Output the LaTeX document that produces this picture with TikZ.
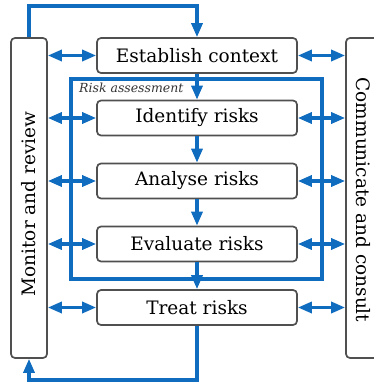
\documentclass[tikz,border=0pt]{standalone}
\usepackage{fontspec}
\setmainfont{DejaVu Serif}
\usetikzlibrary{arrows.meta}
\definecolor{flowblue}{RGB}{16,108,190}
\definecolor{boxgray}{RGB}{80,80,80}
\tikzset{
  stepbox/.style={draw=boxgray, line width=1.7pt, rounded corners=4pt, fill=white,
    minimum width=200pt, minimum height=35pt, inner sep=0pt, font=\fontsize{18.5}{20}\selectfont},
  sidebox/.style={draw=boxgray, line width=1.7pt, rounded corners=4pt,
    minimum width=36pt, minimum height=320pt, inner sep=0pt},
  sidetext/.style={font=\fontsize{18.5}{20}\selectfont, inner sep=0pt},
  flow/.style={draw=flowblue, line width=3.2pt},
  tip/.style={-{Triangle[length=14pt,width=11pt]}},
  dtip/.style={{Triangle[length=14pt,width=11pt]}-{Triangle[length=14pt,width=11pt]}},
}
\begin{document}
\begin{tikzpicture}[x=1pt,y=-1pt]
\useasboundingbox (0,0) rectangle (374,385);
% risk assessment frame
\node (ra) [draw=flowblue, line width=3.2pt, minimum width=251pt, minimum height=200pt, inner sep=0pt] at (196.5,179) {};
\node (ralab) [anchor=north west, inner sep=0pt, font=\fontsize{12.5}{14}\selectfont\itshape, text=black!80] at (79,82.5) {Risk assessment};
% side boxes
\node (mon) [sidebox] at (29,198) {};
\node (montxt) [sidetext, rotate=90] at (29,204) {Monitor and review};
\node (com) [sidebox] at (364,198) {};
\node (comtxt) [sidetext, rotate=-90] at (363,200) {Communicate and consult};
% coordinates for loops
\coordinate (tl) at (29,6);
\coordinate (tr) at (197,6);
\coordinate (bl) at (29,380);
\coordinate (br) at (197,380);
% steps
\node (est) [stepbox] at (197,55.5) {Establish context};
\node (ide) [stepbox] at (197,118) {Identify risks};
\node (ana) [stepbox] at (197,181) {Analyse risks};
\node (eva) [stepbox] at (197,244) {Evaluate risks};
\node (tre) [stepbox] at (197,307.5) {Treat risks};
% vertical flow
\draw[flow, tip] (est) -- (ide);
\draw[flow, tip] (ide) -- (ana);
\draw[flow, tip] (ana) -- (eva);
\draw[flow, tip] (eva) -- (tre);
% loops
\draw[flow, tip] (mon.north) -- (tl) -- (tr) -- (est.north);
\draw[flow, tip] (tre.south) -- (br) -- (bl) -- (mon.south);
% double arrows
\foreach \n in {est,ide,ana,eva,tre}{
  \draw[flow, dtip] (mon.east |- \n) -- (\n.west);
  \draw[flow, dtip] (\n.east) -- (com.west |- \n);
}
\end{tikzpicture}
\end{document}
